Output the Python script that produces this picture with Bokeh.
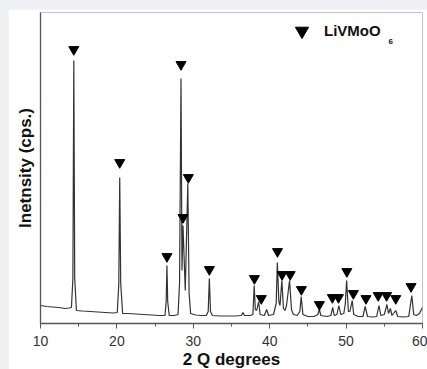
from bokeh.plotting import figure
from bokeh.models import Range1d, FixedTicker, Legend, LegendItem, Label
from bokeh.embed import file_html
from bokeh.resources import INLINE

# XRD pattern (2-theta in degrees, intensity in arbitrary units)
two_theta = [10.0, 10.8, 11.6, 12.4, 13.2, 13.7, 14.05, 14.24, 14.36, 14.48, 14.7,
             15.5, 16.5, 17.5, 18.5, 19.5, 20.05, 20.25, 20.37, 20.5, 20.75,
             21.5, 22.5, 23.5, 24.5, 25.5, 26.3, 26.45, 26.55, 26.65, 26.85,
             27.5, 28.0, 28.2, 28.39, 28.52, 28.65, 28.95, 29.28, 29.45, 29.65,
             30.3, 31.0, 31.7, 31.95, 32.1, 32.25, 32.5, 33.5, 34.5, 35.5,
             36.3, 36.5, 36.7, 37.5, 37.8, 37.97, 38.12, 38.3, 38.55, 38.75,
             39.3, 39.6, 39.85, 40.5, 40.85, 41.0, 41.2, 41.35, 41.59, 41.8,
             42.0, 42.2, 42.6, 42.85, 43.1, 43.6, 43.95, 44.12, 44.35, 45.0,
             45.8, 46.3, 46.5, 46.7, 47.5, 48.0, 48.25, 48.45, 48.8, 49.05,
             49.3, 49.7, 49.9, 50.07, 50.3, 50.5, 50.8, 51.0, 51.6, 52.2,
             52.5, 52.8, 53.5, 54.0, 54.3, 54.55, 55.0, 55.35, 55.55, 55.8,
             56.0, 56.5, 56.75, 57.5, 58.2, 58.6, 58.85, 59.2, 59.6, 60.0]
intensity = [18, 17, 16.5, 16, 15, 15.5, 16, 45, 263, 45, 13,
             12.5, 12, 11.5, 11, 10.5, 11, 40, 146, 40, 10,
             10, 9.5, 9, 8.5, 8, 8, 22, 58, 22, 8,
             8, 9, 40, 245, 53, 98, 33, 140, 30, 10,
             8.5, 8, 8, 12, 45, 12, 8, 7.5, 7.5, 7.5,
             8, 11, 8, 8, 9, 38, 14, 13, 22, 9,
             8, 14, 8, 9, 20, 61, 22, 18, 43, 15,
             13, 18, 43, 14, 9, 8, 12, 27, 9, 7,
             7, 9, 14, 8, 7, 8, 16, 8, 9, 18,
             9, 10, 20, 43, 12, 12, 23, 9, 7, 7,
             17, 7, 6.5, 7, 18, 8, 9, 19, 10, 15,
             8, 13, 7, 6.5, 7, 28, 9, 8, 10, 16]

# LiVMoO6 reflection markers
mark_theta = [14.36, 20.37, 26.55, 28.39, 28.65, 29.35, 32.1, 38.0, 38.9, 41.02,
              41.62, 42.68, 44.15, 46.5, 48.2, 49.0, 50.1, 50.95, 52.6, 54.2,
              55.3, 56.5, 58.5]
mark_level = [274, 161, 67, 259, 106, 146, 54, 45, 25, 72,
              49, 49, 34, 19, 26, 26, 52, 30, 25, 28,
              28, 25, 37]

x_ticks = [10, 20, 30, 40, 50, 60]
x_minor = [15, 25, 35, 45, 55]
phase_name = "LiVMoO"
phase_sub = "6"

p = figure(frame_width=382, frame_height=311, output_backend="svg", toolbar_location=None,
           x_range=Range1d(10, 60), y_range=Range1d(0, 311),
           min_border_left=32, min_border_right=5, min_border_top=3, min_border_bottom=30)
p.background_fill_color = "white"
p.border_fill_color = "white"
p.outline_line_color = "#c4c4c4"
p.outline_line_width = 1
p.xgrid.visible = False
p.ygrid.visible = False

p.line(two_theta, intensity, line_color="#333333", line_width=1.2)
r = p.scatter(mark_theta, mark_level, marker="inverted_triangle", size=10,
              fill_color="black", line_color="black")

leg = Legend(items=[LegendItem(label=phase_name, renderers=[r], index=0)],
             location=(245, 276), orientation="horizontal",
             glyph_width=33, glyph_height=33, label_standoff=6,
             padding=0, margin=0, border_line_color=None, background_fill_alpha=0,
             label_text_font="Liberation Sans", label_text_font_style="bold",
             label_text_font_size="15px", label_text_color="#111111")
p.add_layout(leg)
p.add_layout(Label(x=348, y=280, x_units="screen", y_units="screen", text=phase_sub,
                   text_font="Liberation Sans", text_font_style="bold",
                   text_font_size="8px", text_color="#111111"))

ax = p.xaxis[0]
ax.ticker = FixedTicker(ticks=x_ticks, minor_ticks=x_minor)
ax.axis_label = "2 Q degrees"
ax.axis_label_text_font = "Liberation Sans"
ax.axis_label_text_font_style = "bold"
ax.axis_label_text_font_size = "17px"
ax.axis_label_text_color = "#111111"
ax.axis_label_standoff = 1
ax.major_label_text_font = "Liberation Sans"
ax.major_label_text_font_size = "14px"
ax.major_label_text_color = "#333333"
ax.major_label_standoff = 7
ax.axis_line_color = "#555555"
ax.axis_line_width = 1.3
ax.major_tick_line_color = "#555555"
ax.minor_tick_line_color = "#555555"
ax.major_tick_in = 0
ax.major_tick_out = 5
ax.minor_tick_in = 0
ax.minor_tick_out = 3

ay = p.yaxis[0]
ay.ticker = FixedTicker(ticks=[], minor_ticks=[])
ay.axis_label = "Inetnsity (cps.)"
ay.axis_label_text_font = "Liberation Sans"
ay.axis_label_text_font_style = "bold"
ay.axis_label_text_font_size = "17px"
ay.axis_label_text_color = "#111111"
ay.axis_label_standoff = 6
ay.axis_line_color = "#555555"
ay.axis_line_width = 1.3
ay.major_tick_line_color = None
ay.minor_tick_line_color = None
ay.major_label_text_font_size = "0px"

html = file_html(p, INLINE)
style = ("<style>html,body{background:#eef0f3 !important;}"
         "body{margin:9px 0 0 8px !important;height:auto !important;overflow:hidden;}</style>")
html = html.replace("</head>", style + "</head>", 1)
open("out.html", "w").write(html)
